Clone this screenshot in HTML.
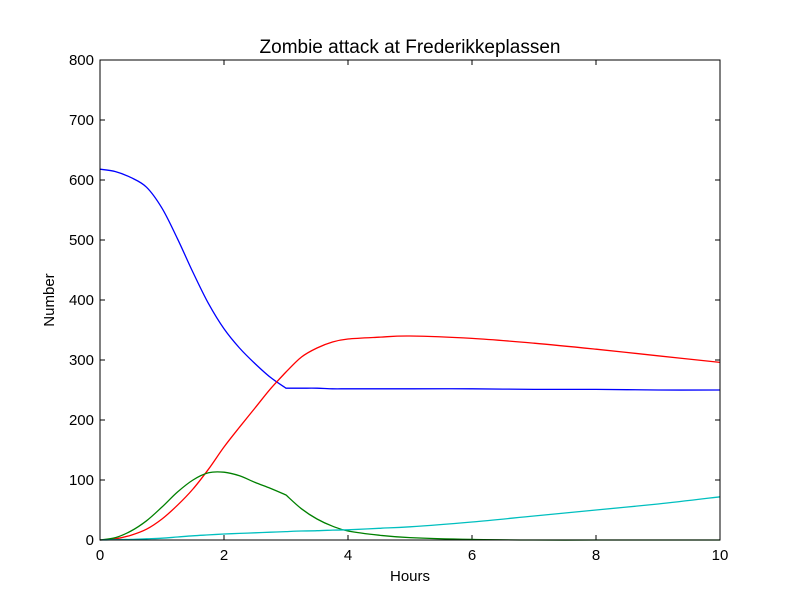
<!DOCTYPE html>
<html><head><meta charset="utf-8"><style>
html,body{margin:0;padding:0;background:#fff;}
svg text{font-family:"Liberation Sans","DejaVu Sans",sans-serif;fill:#000;}
</style></head><body>
<svg id="chart" width="800" height="600" xmlns="http://www.w3.org/2000/svg">
<rect width="800" height="600" fill="#fff"/>
<text x="410" y="53" font-size="19" text-anchor="middle">Zombie attack at Frederikkeplassen</text>
<text x="410" y="581" font-size="15" text-anchor="middle">Hours</text>
<text x="54" y="300" font-size="15" text-anchor="middle" transform="rotate(-90 54 300)">Number</text>
<g id="ticks"></g>
<g id="series"></g>
<rect x="100" y="60" width="620" height="480" fill="none" stroke="#000" stroke-width="1"/>
</svg>
<script>
const times=[0,0.25,0.5,0.75,1,1.25,1.5,1.75,2,2.25,2.5,2.75,3,3.25,3.5,3.75,4,4.5,5,6,7,8,9,10];
const susceptible=[618,614,604,588,553,502,446,394,352,320,294,271,253,253,253,252,252,252,252,252,251,251,250,250];
const zombies=[0,2,8,18,35,58,85,118,155,188,220,252,280,305,320,330,335,338,340,336,328,318,307,296];
const infected=[0,4,15,32,55,80,100,112,113,107,96,86,75,52,35,23,15,8,4,1,0,0,0,0];
const removed=[0,0.5,1,2,3,5,7,8.5,10,11,12,13,14,15,15.5,16.5,17,19.5,22,30,40,50,60,72];
const xTicks=[0,2,4,6,8,10];
const yTicks=[0,100,200,300,400,500,600,700,800];
const NS="http://www.w3.org/2000/svg";
const X=v=>100+v/10*620, Y=v=>540-v/800*480;
const tg=document.getElementById('ticks'), sg=document.getElementById('series');
function mk(tag,attrs,parent){const e=document.createElementNS(NS,tag);for(const k in attrs)e.setAttribute(k,attrs[k]);parent.appendChild(e);return e;}
function smooth(pts){
  let d='M'+pts[0][0].toFixed(1)+','+pts[0][1].toFixed(1);
  for(let i=0;i<pts.length-1;i++){
    const p0=pts[Math.max(0,i-1)],p1=pts[i],p2=pts[i+1],p3=pts[Math.min(pts.length-1,i+2)];
    const c1=[p1[0]+(p2[0]-p0[0])/6,p1[1]+(p2[1]-p0[1])/6];
    const c2=[p2[0]-(p3[0]-p1[0])/6,p2[1]-(p3[1]-p1[1])/6];
    d+='C'+c1[0].toFixed(1)+','+c1[1].toFixed(1)+' '+c2[0].toFixed(1)+','+c2[1].toFixed(1)+' '+p2[0].toFixed(1)+','+p2[1].toFixed(1);
  }
  return d;
}
xTicks.forEach(v=>{
  const x=X(v);
  const l=mk('path',{d:`M${x},540v-5M${x},60v5`,stroke:'#000'},tg);
  
  
  const t=mk('text',{x:x,y:560,'font-size':15,'text-anchor':'middle'},tg);t.textContent=v;
  
  
});
yTicks.forEach(v=>{
  const y=Y(v);
  const l=mk('path',{d:`M100,${y}h5M720,${y}h-5`,stroke:'#000'},tg);
  
  
  const t=mk('text',{x:94,y:y+5,'font-size':15,'text-anchor':'end'},tg);t.textContent=v;
  
  
});
[[susceptible,'#0000ff','line-susceptible'],[zombies,'#ff0000','line-zombies'],[infected,'#008000','line-infected'],[removed,'#00bfbf','line-removed']].forEach(([d,c,n])=>{
  const pts=d.map((v,i)=>[X(times[i]),Y(v)]);
  const k=times.indexOf(3);
  const path=smooth(pts.slice(0,k+1))+smooth(pts.slice(k)).replace(/^M[^C]*/,'');
  const p=mk('path',{d:path,fill:'none',stroke:c,'stroke-width':1.3,'stroke-linejoin':'round'},sg);
  
  
});
</script>
</body></html>
